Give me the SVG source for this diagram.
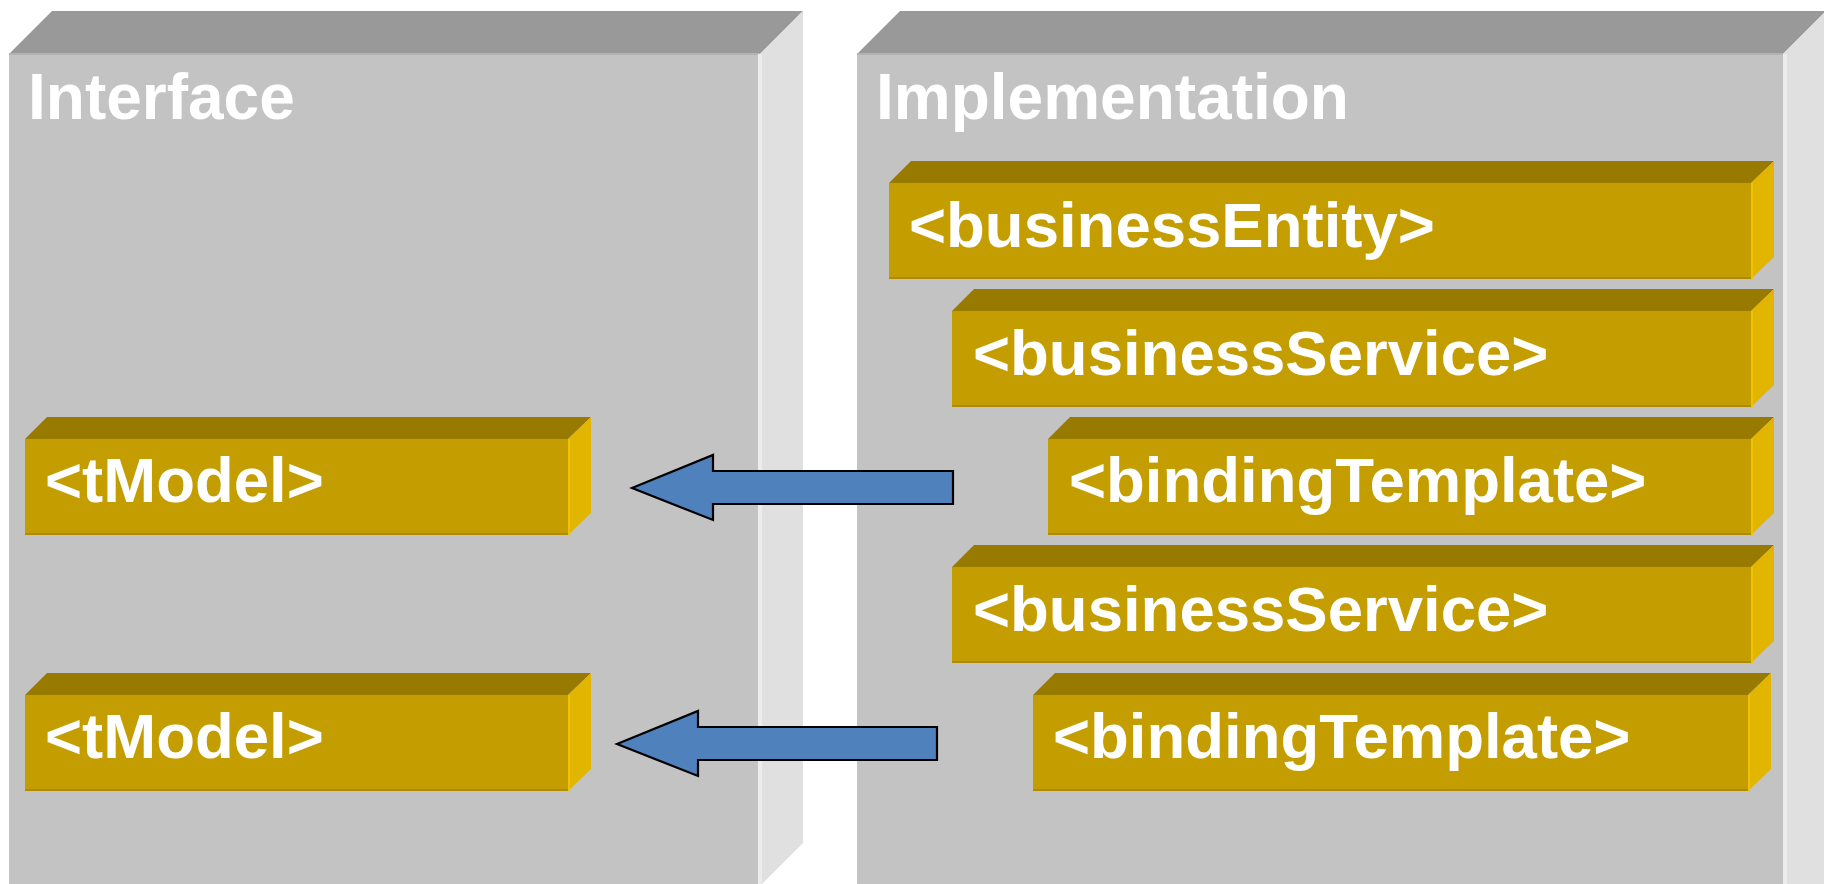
<svg xmlns="http://www.w3.org/2000/svg" width="1824" height="884" viewBox="0 0 1824 884">
<style>
.bt{fill:#999999}.bf{fill:#c3c3c3}.bs{fill:#e0e0e0}.bh{fill:#ececec}.be{fill:#b3b3b3}
.gt{fill:#997a00}.gf{fill:#c49d00}.gs{fill:#e2b500}.ge{fill:#ae8b00}.gh{fill:#f0c200}
.title{font-family:"Liberation Sans",Arial,sans-serif;font-weight:bold;font-size:64px;fill:#ffffff}
.lbl{font-family:"Liberation Sans",Arial,sans-serif;font-weight:bold;font-size:63.5px;fill:#ffffff}
.arrow{fill:#4f81bd;stroke:#000000;stroke-width:2.2;stroke-linejoin:miter}
</style>
<rect width="1824" height="884" fill="#ffffff"/>
<g id="interface">
<polygon class="bt" points="9,54 52,11 803,11 760,54"/>
<polygon class="bs" points="760,54 803,11 803,843 760,886"/>
<rect class="bf" x="9" y="54" width="751" height="832"/>
<rect class="be" x="9" y="53" width="751" height="2"/>
<rect class="bh" x="758" y="54" width="4" height="832"/>
<text class="title" x="28" y="119">Interface</text>
</g>
<g id="implementation">
<polygon class="bt" points="857,54 900,11 1826,11 1783,54"/>
<polygon class="bs" points="1783,54 1826,11 1826,886 1783,886"/>
<rect class="bf" x="857" y="54" width="926" height="832"/>
<rect class="be" x="857" y="53" width="926" height="2"/>
<rect class="bh" x="1783" y="54" width="4" height="832"/>
<text class="title" x="876" y="119">Implementation</text>
</g>
<g id="businessEntity">
<polygon class="gt" points="889,183 911,161 1774,161 1751,183"/>
<polygon class="gs" points="1751,183 1774,161 1774,257 1751,279"/>
<rect class="gf" x="889" y="183" width="862" height="96"/>
<rect class="ge" x="889" y="277" width="862" height="2"/>
<rect class="gh" x="1751" y="183" width="2" height="96"/>
<text class="lbl" x="909" y="247">&lt;businessEntity&gt;</text>
</g>
<g id="businessService1">
<polygon class="gt" points="952,311 974,289 1774,289 1751,311"/>
<polygon class="gs" points="1751,311 1774,289 1774,385 1751,407"/>
<rect class="gf" x="952" y="311" width="799" height="96"/>
<rect class="ge" x="952" y="405" width="799" height="2"/>
<rect class="gh" x="1751" y="311" width="2" height="96"/>
<text class="lbl" x="973" y="375">&lt;businessService&gt;</text>
</g>
<g id="bindingTemplate1">
<polygon class="gt" points="1048,439 1070,417 1774,417 1751,439"/>
<polygon class="gs" points="1751,439 1774,417 1774,513 1751,535"/>
<rect class="gf" x="1048" y="439" width="703" height="96"/>
<rect class="ge" x="1048" y="533" width="703" height="2"/>
<rect class="gh" x="1751" y="439" width="2" height="96"/>
<text class="lbl" x="1069" y="502">&lt;bindingTemplate&gt;</text>
</g>
<g id="businessService2">
<polygon class="gt" points="952,567 974,545 1774,545 1751,567"/>
<polygon class="gs" points="1751,567 1774,545 1774,641 1751,663"/>
<rect class="gf" x="952" y="567" width="799" height="96"/>
<rect class="ge" x="952" y="661" width="799" height="2"/>
<rect class="gh" x="1751" y="567" width="2" height="96"/>
<text class="lbl" x="973" y="631">&lt;businessService&gt;</text>
</g>
<g id="bindingTemplate2">
<polygon class="gt" points="1033,695 1055,673 1771,673 1748,695"/>
<polygon class="gs" points="1748,695 1771,673 1771,769 1748,791"/>
<rect class="gf" x="1033" y="695" width="715" height="96"/>
<rect class="ge" x="1033" y="789" width="715" height="2"/>
<rect class="gh" x="1748" y="695" width="2" height="96"/>
<text class="lbl" x="1053" y="758">&lt;bindingTemplate&gt;</text>
</g>
<g id="tModel1">
<polygon class="gt" points="25,439 47,417 591,417 568,439"/>
<polygon class="gs" points="568,439 591,417 591,513 568,535"/>
<rect class="gf" x="25" y="439" width="543" height="96"/>
<rect class="ge" x="25" y="533" width="543" height="2"/>
<rect class="gh" x="568" y="439" width="2" height="96"/>
<text class="lbl" x="45" y="502">&lt;tModel&gt;</text>
</g>
<g id="tModel2">
<polygon class="gt" points="25,695 47,673 591,673 568,695"/>
<polygon class="gs" points="568,695 591,673 591,769 568,791"/>
<rect class="gf" x="25" y="695" width="543" height="96"/>
<rect class="ge" x="25" y="789" width="543" height="2"/>
<rect class="gh" x="568" y="695" width="2" height="96"/>
<text class="lbl" x="45" y="758">&lt;tModel&gt;</text>
</g>
<g id="connectors">
<polygon class="arrow" points="632,488 713,455 713,471 953,471 953,504 713,504 713,520"/>
<polygon class="arrow" points="617,744 698,711 698,727 937,727 937,760 698,760 698,776"/>
</g>
</svg>
